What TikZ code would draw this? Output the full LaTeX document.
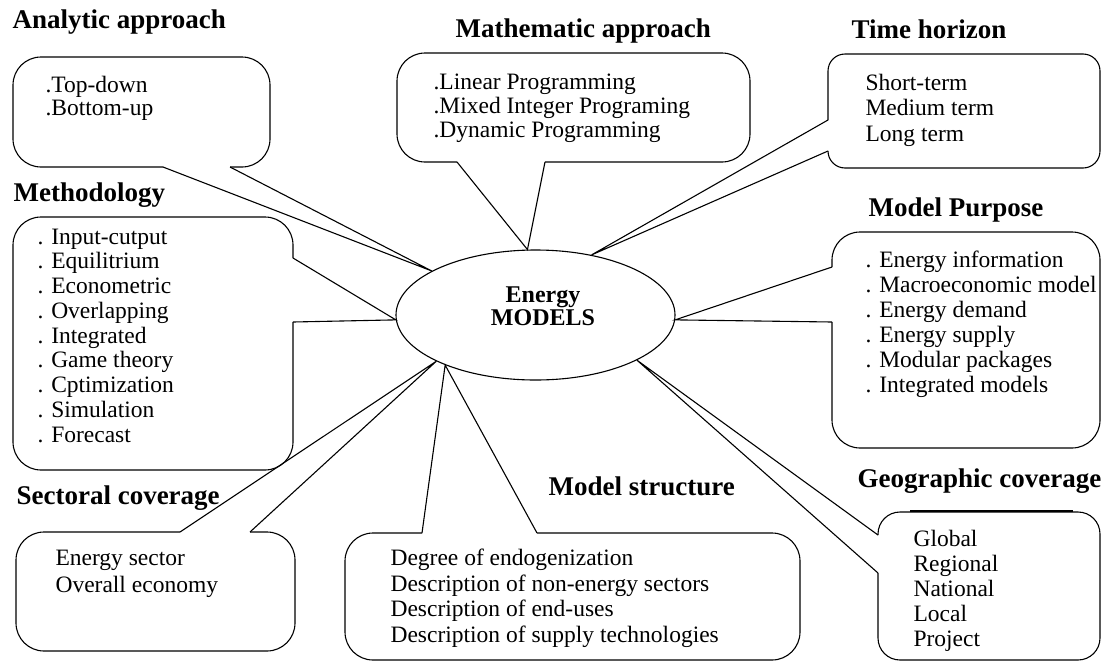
\documentclass[tikz,border=0pt]{standalone}
\usepackage{fontspec}
\setmainfont{Liberation Serif}
\usetikzlibrary{shapes.geometric}
\begin{document}
\begin{tikzpicture}[x=1pt, y=-1pt, line width=1.1pt,
    callout/.style={rounded corners=28pt},
    title/.style={anchor=base west, inner sep=0pt, font=\fontsize{27}{29}\selectfont\bfseries},
    item/.style={anchor=base west, inner sep=0pt, font=\fontsize{23.5}{25}\selectfont}]
    \useasboundingbox (0,0) rectangle (1103,662);

    % centre
    \node[ellipse, draw, minimum width=279pt, minimum height=130pt, inner sep=0pt] (models) at (535.5,315) {};
    \node[align=center, inner sep=0pt, font=\fontsize{24}{23}\selectfont\bfseries] (modelsText) at (543,306) {Energy\\MODELS};

    % analytic approach
    \node[title] (anaTitle) at (12,28) {Analytic approach};
    \draw[callout] (230,167) -- (270,167) -- (270,57) -- (13,57) -- (13,167) -- (163,167);
    \draw (163,167) -- (models.157) -- (230,167);
    \foreach \t [count=\i] in {.Top-down,.Bottom-up}
        \node[item] (ana\i) at (45,{68.5+23.5*\i}) {\t};

    % mathematic approach
    \node[title] (mathTitle) at (455,37) {Mathematic approach};
    \draw[callout] (545,162) -- (750,162) -- (750,53) -- (397,53) -- (397,162) -- (457,162);
    \draw (457,162) -- (models.97) -- (545,162);
    \foreach \t [count=\i] in {.Linear Programming,.Mixed Integer Programing,.Dynamic Programming}
        \node[item] (math\i) at (433,{65+24*\i}) {\t};

    % time horizon
    \node[title] (timeTitle) at (851,38) {Time horizon};
    \draw[callout, rounded corners=17pt] (828,151) -- (828,168) -- (1100,168) -- (1100,54) -- (828,54) -- (828,120);
    \draw (828,120) -- (models.47) -- (828,151);
    \foreach \t [count=\i] in {Short-term,Medium term,Long term}
        \node[item] (time\i) at (865,{64.5+25.5*\i}) {\t};

    % methodology
    \node[title] (methTitle) at (13,201) {Methodology};
    \draw[callout] (293,322) -- (293,470) -- (13,470) -- (13,217) -- (293,217) -- (293,258);
    \draw (293,258) -- (models.182) -- (293,322);
    \foreach \t [count=\i] in {. Input-cutput,. Equilitrium,. Econometric,. Overlapping,. Integrated,. Game theory,. Cptimization,. Simulation,. Forecast}
        \node[item] (meth\i) at (37,{219.25+24.75*\i}) {\t};

    % model purpose
    \node[title] (purpTitle) at (868,216) {Model Purpose};
    \draw[callout] (832,322) -- (832,448) -- (1100,448) -- (1100,232) -- (832,232) -- (832,267);
    \draw (832,267) -- (models.358) -- (832,322);
    \foreach \t [count=\i] in {. Energy information,. Macroeconomic model,. Energy demand,. Energy supply,. Modular packages,. Integrated models}
        \node[item] (purp\i) at (865,{242+25*\i}) {\t};

    % sectoral coverage
    \node[title] (sectTitle) at (16,504) {Sectoral coverage};
    \draw[callout] (250,532) -- (295,532) -- (295,651) -- (16,651) -- (16,532) -- (180,532);
    \draw (180,532) -- (models.205) -- (250,532);
    \foreach \t [count=\i] in {Energy sector,Overall economy}
        \node[item] (sect\i) at (55,{538+27*\i}) {\t};

    % model structure
    \node[title] (strucTitle) at (548,495) {Model structure};
    \draw[callout] (537,533) -- (800,533) -- (800,660) -- (345,660) -- (345,533) -- (422,533);
    \draw (422,533) -- (models.209) -- (537,533);
    \foreach \t [count=\i] in {Degree of endogenization,Description of non-energy sectors,Description of end-uses,Description of supply technologies}
        \node[item] (struc\i) at (390,{540+25.5*\i}) {\t};

    % geographic coverage
    \node[title] (geoTitle) at (857,487) {Geographic coverage};
    \draw[callout, rounded corners=22pt] (878,573) -- (878,660) -- (1100,660) -- (1100,512) -- (878,512) -- (878,535);
    \draw (878,535) -- (models.336) -- (878,573);
    \draw[line width=2.5pt] (910,511) -- (1073,511);
    \foreach \t [count=\i] in {Global,Regional,National,Local,Project}
        \node[item] (geo\i) at (913,{521+25*\i}) {\t};
\end{tikzpicture}
\end{document}
